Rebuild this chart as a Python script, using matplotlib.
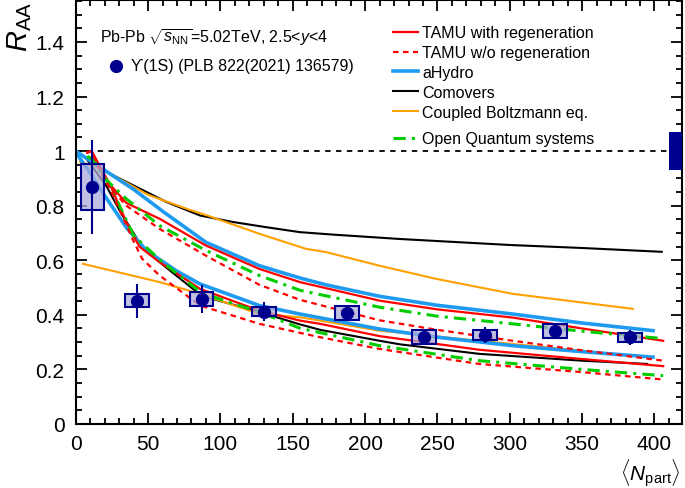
import matplotlib
matplotlib.use("Agg")
import matplotlib.pyplot as plt
from matplotlib.lines import Line2D
from matplotlib.patches import Rectangle
from matplotlib.ticker import MultipleLocator, FuncFormatter

plt.rcParams['font.family'] = ['Liberation Sans', 'DejaVu Sans']
plt.rcParams['mathtext.fontset'] = 'custom'
plt.rcParams['mathtext.rm'] = 'Liberation Sans'
plt.rcParams['mathtext.it'] = 'Liberation Sans:italic'

# Upsilon(1S) data
npart = [11.6, 42.5, 87, 130.3, 187.6, 240.8, 282.7, 331, 383.3]
raa = [0.868, 0.451, 0.458, 0.412, 0.406, 0.318, 0.326, 0.340, 0.318]
stat = [0.173, 0.061, 0.051, 0.035, 0.022, 0.025, 0.030, 0.026, 0.027]
syst = [0.084, 0.024, 0.024, 0.018, 0.025, 0.026, 0.017, 0.026, 0.017]
glob_unc = 0.07

# models: (N_part, R_AA) for upper and lower edges
tamu_reg_hi_n = [8, 11, 20, 35, 58, 90, 127, 155, 210, 250, 302, 350, 406]
tamu_reg_hi_r = [0.995, 1.0, 0.90, 0.81, 0.752, 0.654, 0.568, 0.52, 0.452, 0.42, 0.39, 0.35, 0.305]
tamu_reg_lo_n = [8, 11, 24, 35, 44, 58, 86, 127, 155, 169, 210, 279, 350, 406]
tamu_reg_lo_r = [0.995, 1.0, 0.874, 0.74, 0.65, 0.593, 0.495, 0.415, 0.379, 0.367, 0.322, 0.272, 0.238, 0.212]

tamu_nor_hi_n = [8, 11, 20, 35, 58, 90, 127, 155, 210, 250, 302, 350, 406]
tamu_nor_hi_r = [0.995, 1.0, 0.89, 0.80, 0.715, 0.617, 0.51, 0.455, 0.38, 0.345, 0.305, 0.27, 0.232]
tamu_nor_lo_n = [8, 11, 24, 40, 46, 58, 86, 127, 155, 169, 210, 279, 350, 406]
tamu_nor_lo_r = [0.995, 1.0, 0.86, 0.67, 0.605, 0.544, 0.434, 0.367, 0.334, 0.318, 0.275, 0.22, 0.19, 0.163]

ahydro_hi_n = [0, 20, 40, 60, 90, 127, 155, 173, 210, 250, 302, 350, 399]
ahydro_hi_r = [1.0, 0.93, 0.86, 0.78, 0.666, 0.58, 0.535, 0.51, 0.468, 0.435, 0.403, 0.37, 0.342]
ahydro_lo_n = [0, 10, 19, 35, 49, 70, 86, 127, 155, 210, 250, 302, 350, 399]
ahydro_lo_r = [0.996, 0.92, 0.845, 0.72, 0.635, 0.56, 0.513, 0.434, 0.403, 0.348, 0.318, 0.287, 0.265, 0.245]

comov_hi_n = [7, 19, 40, 63, 86, 109, 132, 155, 178, 224, 300, 350, 405]
comov_hi_r = [0.975, 0.93, 0.874, 0.813, 0.764, 0.74, 0.721, 0.703, 0.694, 0.678, 0.656, 0.645, 0.631]
comov_lo_n = [7, 21, 31, 46, 61, 87, 127, 155, 169, 210, 224, 279, 350, 395]
comov_lo_r = [0.975, 0.874, 0.776, 0.648, 0.58, 0.47, 0.41, 0.365, 0.345, 0.305, 0.292, 0.257, 0.232, 0.22]

boltz_hi_n = [3, 12, 26, 50, 77, 91, 127, 159, 173, 210, 249, 302, 385]
boltz_hi_r = [0.96, 0.947, 0.911, 0.84, 0.788, 0.764, 0.697, 0.642, 0.630, 0.58, 0.532, 0.477, 0.422]
boltz_lo_n = [5, 58, 86, 127, 155, 169, 210, 279, 385]
boltz_lo_r = [0.587, 0.52, 0.477, 0.403, 0.391, 0.379, 0.342, 0.305, 0.250]

oqs_hi_n = [8, 12, 20, 35, 58, 90, 127, 155, 210, 250, 302, 350, 406]
oqs_hi_r = [0.98, 0.97, 0.90, 0.825, 0.727, 0.636, 0.544, 0.49, 0.428, 0.395, 0.367, 0.34, 0.313]
oqs_lo_n = [8, 12, 24, 40, 60, 87, 127, 155, 210, 279, 350, 406]
oqs_lo_r = [0.98, 0.97, 0.87, 0.69, 0.593, 0.48, 0.41, 0.351, 0.287, 0.232, 0.20, 0.177]

navy = '#00008f'
red = '#ff0000'
blue = '#1e9bf0'
orange = '#ffa000'
green = '#00cc00'

fig = plt.figure(figsize=(6.85, 4.89), dpi=100)
ax = fig.add_axes([0.1105, 0.1309, 0.8851, 0.8677])

# model curves
sty = {
    'reg': dict(color=red, lw=1.6, ls='-'),
    'nor': dict(color=red, lw=1.6, ls=(0, (2.5, 2))),
    'hyd': dict(color=blue, lw=2.6, ls='-'),
    'com': dict(color='black', lw=1.5, ls='-'),
    'bol': dict(color=orange, lw=1.5, ls='-'),
    'oqs': dict(color=green, lw=2.2, ls=(0, (4, 2, 1, 2))),
}
ax.plot(comov_hi_n, comov_hi_r, **sty['com'])
ax.plot(comov_lo_n, comov_lo_r, **sty['com'])
ax.plot(boltz_hi_n, boltz_hi_r, **sty['bol'])
ax.plot(boltz_lo_n, boltz_lo_r, **sty['bol'])
ax.plot(ahydro_hi_n, ahydro_hi_r, **sty['hyd'])
ax.plot(ahydro_lo_n, ahydro_lo_r, **sty['hyd'])
ax.plot(tamu_reg_hi_n, tamu_reg_hi_r, **sty['reg'])
ax.plot(tamu_reg_lo_n, tamu_reg_lo_r, **sty['reg'])
ax.plot(oqs_hi_n, oqs_hi_r, **sty['oqs'])
ax.plot(oqs_lo_n, oqs_lo_r, **sty['oqs'])
ax.plot(tamu_nor_hi_n, tamu_nor_hi_r, **sty['nor'])
ax.plot(tamu_nor_lo_n, tamu_nor_lo_r, **sty['nor'])

ax.axhline(1, color='black', lw=1.3, ls=(0, (3, 3)), zorder=1)

# data: syst boxes, stat bars, markers
for x, y, e in zip(npart, raa, syst):
    ax.add_patch(Rectangle((x - 8.2, y - e), 16.4, 2 * e, facecolor=(0.67, 0.67, 0.85, 0.75),
                           edgecolor=navy, lw=1.5, zorder=5))
ax.errorbar(npart, raa, yerr=stat, fmt='o', color=navy, ms=8.5, lw=1.5, capsize=0, zorder=6)

# global uncertainty
ax.add_patch(Rectangle((410, 1 - glob_unc), 12, 2 * glob_unc, facecolor=navy, edgecolor='none', zorder=5))

ax.set_xlim(0, 419)
ax.set_ylim(0, 1.555)
ax.xaxis.set_major_locator(MultipleLocator(50))
ax.xaxis.set_minor_locator(MultipleLocator(10))
ax.yaxis.set_major_locator(MultipleLocator(0.2))
ax.yaxis.set_minor_locator(MultipleLocator(0.05))
ax.yaxis.set_major_formatter(FuncFormatter(lambda v, p: '%g' % round(v, 2)))
ax.tick_params(which='both', direction='in', top=True, right=True, labelsize=15, width=1.3)
ax.tick_params(which='major', length=8)
ax.tick_params(which='minor', length=4.5)
ax.tick_params(axis='y', pad=8)
ax.tick_params(axis='x', pad=7)
for s in ax.spines.values():
    s.set_linewidth(1.5)

ax.set_ylabel(r'$R_{\mathrm{AA}}$', fontsize=21, loc='top')
ax.yaxis.set_label_coords(-0.068, 0.998)
ax.set_xlabel(r'$\langle N_{\mathrm{part}}\rangle$', fontsize=15, loc='right')
ax.xaxis.set_label_coords(0.998, -0.075)

ax.text(0.04, 0.912, r'Pb-Pb $\sqrt{s_{\mathrm{NN}}}$=5.02TeV, 2.5<$y$<4', transform=ax.transAxes,
        fontsize=11.5, va='center')
ax.plot([0.0665], [0.844], 'o', color=navy, ms=8.5, transform=ax.transAxes)
ax.text(0.092, 0.844, 'ϒ(1S) (PLB 822(2021) 136579)', transform=ax.transAxes,
        fontsize=11.5, va='center')

handles = [Line2D([], [], **sty[k]) for k in ['reg', 'nor', 'hyd', 'com', 'bol']]
labels = ['TAMU with regeneration', 'TAMU w/o regeneration', 'aHydro', 'Comovers',
          'Coupled Boltzmann eq.']
leg = ax.legend(handles, labels, loc='upper left', bbox_to_anchor=(0.523, 0.94), frameon=False,
                fontsize=11.5, handlelength=1.55, handletextpad=0.3, labelspacing=0.31,
                borderpad=0, borderaxespad=0)
ax.add_artist(leg)
ax.legend([Line2D([], [], **sty['oqs'])], ['Open Quantum systems'], loc='upper left',
          bbox_to_anchor=(0.523, 0.69), frameon=False, fontsize=11.5, handlelength=1.55,
          handletextpad=0.3, borderpad=0, borderaxespad=0)

fig.savefig('out.png', dpi=100)
